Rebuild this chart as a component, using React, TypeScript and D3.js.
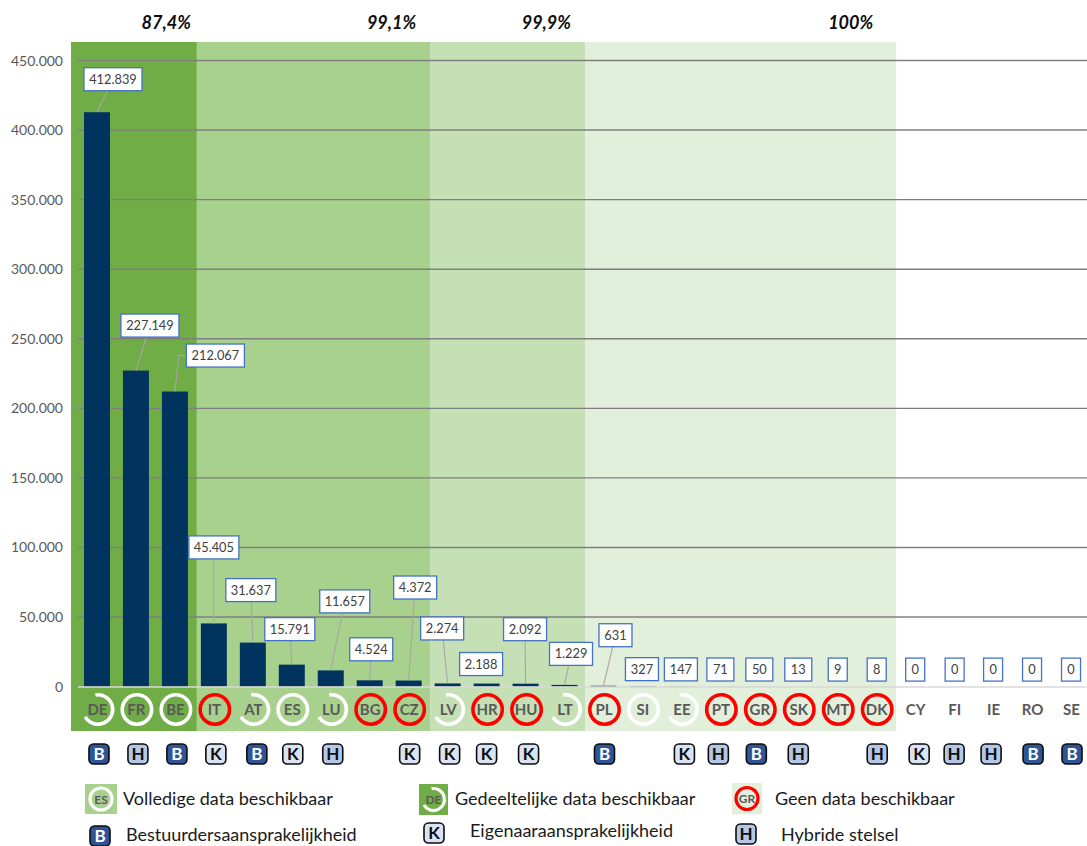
import React from "react";
import * as d3 from "d3";

const categories = ["DE","FR","BE","IT","AT","ES","LU","BG","CZ","LV","HR","HU","LT","PL","SI","EE","PT","GR","SK","MT","DK","CY","FI","IE","RO","SE"];
const values = [412839,227149,212067,45405,31637,15791,11657,4524,4372,2274,2188,2092,1229,631,327,147,71,50,13,9,8,0,0,0,0,0];
const dataStatus = ["partial","full","full","none","partial","full","partial","none","none","partial","none","none","partial","none","full","partial","none","none","none","none","none","","","","",""];
const regimes = ["B","H","B","K","B","K","H","","K","K","K","K","","B","","K","H","B","H","","H","K","H","H","B","B"];
const yTicks = [0,50000,100000,150000,200000,250000,300000,350000,400000,450000];
const coverageLabels = ["87,4%","99,1%","99,9%","100%"];
const coverageLast = ["BE","CZ","LT","DK"];
const coverageColors = ["#70ad47","#a9d18e","#c5e0b4","#e2efda"];

// layout offsets (label box centre relative to bar top centre; badge relative to bar centre)
const labelDx = [16,14,40.5,0,-2,-2,14,1.5,6.5,-5.5,-5.5,-0.5,6.5,12,-0.5,-0.5,0,0,0,0.5,0.5,0,0.5,0,0,0];
const labelDy = [-33,-45,-36,-76,-52.5,-35.5,-69,-31,-93,-55,-19.5,-54.5,-31,-50.5,-17,-17,-17,-17,-17,-17,-17,-17,-17,-17,-17,-17];
const leaderCats = ["DE","FR","BE","IT","AT","ES","LU","BG","CZ","LV","HU","LT","PL"];
const badgeDx = [2,2,2,2,4,1,2,0,1,2,0,3,0,1,0,3,-2,-3,0,0,1,4,0,-2,1,1];
const bandNudge = [2.5,2,1,0.5];
const pctEndOffset = [6,14,14,23];

const FONT = "Lato, Carlito, sans-serif";
const W = 1087, H = 846;
const fmt = d3.formatLocale({ decimal: ",", thousands: ".", grouping: [3], currency: ["", ""] }).format(",d");

const x = d3.scaleBand<string>().domain(categories).range([77.5, 1090.5]).paddingInner(0.333).paddingOuter(0.1665);
const y = d3.scaleLinear().domain([0, 450000]).range([686.6, 60.5]);
const cx = (c: string) => (x(c) as number) + x.bandwidth() / 2;

const partialArc = d3.arc();
const arcPath = (r: number, w: number) =>
  partialArc({ innerRadius: r - w / 2, outerRadius: r + w / 2, startAngle: (-10 * Math.PI) / 180, endAngle: (240 * Math.PI) / 180 }) as string;

function Ring({ status, r, w, px, py }: { status: string; r: number; w: number; px: number; py: number }) {
  if (status === "partial")
    return <path d={arcPath(r, w)} transform={`translate(${px},${py})`} fill="#fff" />;
  if (status === "full")
    return <circle cx={px} cy={py} r={r} fill="none" stroke="#fff" strokeWidth={w} />;
  if (status === "none")
    return <circle cx={px} cy={py} r={r} fill="none" stroke="#ff0000" strokeWidth={w} />;
  return null;
}

const badgeFill: Record<string, string> = { B: "#2f5597", H: "#b4c7e7", K: "#dae3f3" };
function Badge({ k, px, py }: { k: string; px: number; py: number }) {
  return (
    <g>
      <rect x={px - 10} y={py - 10} width={20} height={20} rx={4.5} fill={badgeFill[k]} stroke="#0d0d0d" strokeWidth={1.6} />
      <text x={px} y={py + 6} textAnchor="middle" fontSize={17} fontWeight={700} fill={k === "B" ? "#fff" : "#0d0d0d"}>{k}</text>
    </g>
  );
}

function Swatch({ sx, sy, w, h, fill, status, label }: { sx: number; sy: number; w: number; h: number; fill: string; status: string; label: string }) {
  const px = sx + w / 2, py = sy + h / 2;
  return (
    <g>
      <rect x={sx} y={sy} width={w} height={h} fill={fill} />
      <text x={px} y={py + 4.5} textAnchor="middle" fontSize={12} fontWeight={700} fill="#595959">{label}</text>
      <Ring status={status} r={11} w={3.2} px={px} py={py} />
    </g>
  );
}

export default function App() {
  const edges: number[] = [71];
  coverageLast.forEach((c, i) => edges.push((x(c) as number) + x.bandwidth() + x.step() * 0.1665 + bandNudge[i]));
  return (
    <svg width={W} height={H} viewBox={`0 0 ${W} ${H}`} fontFamily={FONT} style={{ position: "fixed", left: 0, top: 0, background: "#fff" }}>
      {coverageColors.map((c, i) => (
        <rect key={c} x={edges[i]} y={42} width={edges[i + 1] - edges[i]} height={689} fill={c} />
      ))}
      {coverageLabels.map((t, i) => (
        <text key={t} x={edges[i + 1] - pctEndOffset[i]} y={29} textAnchor="end" fontSize={18} fontWeight={700} fontStyle="italic" fill="#0d0d0d">{t}</text>
      ))}
      {yTicks.filter((t) => t > 0).map((t) => (
        <line key={t} x1={78} x2={W} y1={y(t)} y2={y(t)} stroke="#7f7f7f" strokeWidth={1.4} />
      ))}
      {yTicks.map((t) => (
        <text key={t} x={63} y={y(t) + 5} textAnchor="end" fontSize={14} fill="#595959">{fmt(t)}</text>
      ))}
      {categories.map((c, i) => (
        <rect key={c} x={x(c)} y={y(values[i])} width={x.bandwidth()} height={y(0) - y(values[i])} fill="#00345f" />
      ))}
      <line x1={78} x2={W} y1={687} y2={687} stroke="#d9d9d9" strokeWidth={1.5} />
      {categories.map((c, i) => {
        if (!leaderCats.includes(c)) return null;
        const bx = cx(c), by = y(values[i]);
        const lx = bx + labelDx[i], ly = by + labelDy[i];
        const points = c === "BE"
          ? [[lx - 28.5, ly], [bx + 4, ly], [bx, by]]
          : [[lx, ly], [bx, by]];
        return <polyline key={c} points={points.map((p) => p.join(",")).join(" ")} fill="none" stroke="#a6a6a6" strokeWidth={1.1} />;
      })}
      {categories.map((c, i) => {
        const label = fmt(values[i]);
        const n = label.length;
        const w = n >= 7 ? 58 : n === 6 ? 50 : n === 5 ? 43 : n === 3 ? 33 : n === 2 ? 27 : 19;
        const lx = cx(c) + labelDx[i], ly = y(values[i]) + labelDy[i];
        return (
          <g key={c}>
            <rect x={lx - w / 2} y={ly - 11.5} width={w} height={23} fill="#fff" stroke="#4472c4" strokeWidth={1.3} />
            <text x={lx} y={ly + 4.5} textAnchor="middle" fontSize={12.8} fill="#404040">{label}</text>
          </g>
        );
      })}
      {categories.map((c, i) => (
        <g key={c}>
          <text x={cx(c) + 0.5} y={715} textAnchor="middle" fontSize={15} fontWeight={700} fill="#595959">{c}</text>
          <Ring status={dataStatus[i]} r={14.7} w={3.6} px={cx(c) + 1} py={709.5} />
        </g>
      ))}
      {categories.map((c, i) => regimes[i] ? <Badge key={c} k={regimes[i]} px={cx(c) + badgeDx[i]} py={754} /> : null)}

      <Swatch sx={85} sy={784} w={32} h={30} fill="#a9d18e" status="full" label="ES" />
      <text x={123} y={804.5} fontSize={18} fill="#1a1a1a">Volledige data beschikbaar</text>
      <Swatch sx={419} sy={784} w={29} h={31} fill="#70ad47" status="partial" label="DE" />
      <text x={455} y={804.5} fontSize={18} fill="#1a1a1a">Gedeeltelijke data beschikbaar</text>
      <Swatch sx={732} sy={783} w={30} h={31} fill="#e2efda" status="none" label="GR" />
      <text x={775} y={804.5} fontSize={18} fill="#1a1a1a">Geen data beschikbaar</text>
      <Badge k="B" px={100} py={836} />
      <text x={126} y={841} fontSize={18} fill="#1a1a1a">Bestuurdersaansprakelijkheid</text>
      <Badge k="K" px={434} py={833} />
      <text x={470} y={837} fontSize={18} fill="#1a1a1a">Eigenaaraansprakelijkheid</text>
      <Badge k="H" px={746} py={834} />
      <text x={781} y={841} fontSize={18} fill="#1a1a1a">Hybride stelsel</text>
    </svg>
  );
}
